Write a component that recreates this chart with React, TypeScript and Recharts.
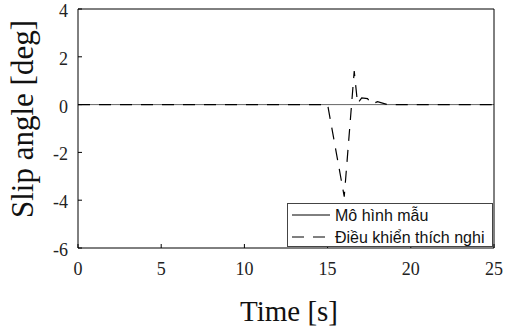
import React from 'react';
import { LineChart, Line, XAxis, YAxis, Label } from 'recharts';

const xTicks = [0, 5, 10, 15, 20, 25];
const yTicks = [-6, -4, -2, 0, 2, 4];

const modelTime = [0, 25];
const modelValue = [0, 0];

const adaptiveTime = [0, 15, 16.0, 16.6, 16.8, 17.05, 17.4, 17.65, 18.0, 18.6, 25];
const adaptiveValue = [0, 0, -3.85, 1.4, 0.05, 0.28, 0.25, 0.02, 0.12, 0, 0];

const seriesNames = ['Mô hình mẫu', 'Điều khiển thích nghi'];

const modelData = modelTime.map((t, i) => ({ t, v: modelValue[i] }));
const adaptiveData = adaptiveTime.map((t, i) => ({ t, v: adaptiveValue[i] }));

const W = 505;
const H = 326;
const PL = 78;
const PR = 494;
const PT = 9;
const PB = 248;
const TICK = 4;
const serif = '"Liberation Serif", "Times New Roman", serif';
const sans = '"Liberation Sans", Arial, sans-serif';

const BottomTick = (props: any) => {
  const { x, payload } = props;
  return (
    <g>
      <line x1={x} x2={x} y1={PB} y2={PB - TICK} stroke="#000" strokeWidth={1} />
      <text x={x} y={PB + 27} textAnchor="middle" style={{ fontFamily: serif, fontSize: 18 }} fill="#222">
        {payload.value}
      </text>
    </g>
  );
};

const TopTick = (props: any) => {
  const { x } = props;
  return <line x1={x} x2={x} y1={PT} y2={PT + TICK} stroke="#000" strokeWidth={1} />;
};

const LeftTick = (props: any) => {
  const { y, payload } = props;
  return (
    <g>
      <line x1={PL} x2={PL + TICK} y1={y} y2={y} stroke="#000" strokeWidth={1} />
      <text x={PL - 10} y={y + 8} textAnchor="end" style={{ fontFamily: serif, fontSize: 18 }} fill="#222">
        {payload.value}
      </text>
    </g>
  );
};

const RightTick = (props: any) => {
  const { y } = props;
  return <line x1={PR} x2={PR - TICK} y1={y} y2={y} stroke="#000" strokeWidth={1} />;
};

const LegendBox = () => (
  <svg width={206} height={44} style={{ position: 'absolute', left: 287, top: 203 }}>
    <rect x={0.5} y={0.5} width={205} height={43} fill="#fff" stroke="#444" strokeWidth={1} />
    <line x1={5} x2={43} y1={12} y2={12} stroke="#000" strokeWidth={1} />
    <line x1={5} x2={43} y1={34} y2={34} stroke="#000" strokeWidth={1} strokeDasharray="12 9" />
    <text x={48} y={17.5} style={{ fontFamily: sans, fontSize: 16 }} fill="#111">{seriesNames[0]}</text>
    <text x={48} y={39.5} style={{ fontFamily: sans, fontSize: 16 }} fill="#111">{seriesNames[1]}</text>
  </svg>
);

export default function App() {
  return (
    <div style={{ position: 'absolute', left: 0, top: 0, width: W, height: H, background: '#fff' }}>
      <LineChart width={W} height={H} margin={{ top: 0, right: 0, bottom: 0, left: 0 }}>
        <XAxis
          xAxisId="b"
          dataKey="t"
          type="number"
          domain={[0, 25]}
          ticks={xTicks}
          orientation="bottom"
          height={H - PB}
          tickLine={false}
          tickSize={0}
          tickMargin={0}
          axisLine={{ stroke: '#000', strokeWidth: 1 }}
          tick={<BottomTick />}
          interval={0}
        >
          <Label
            content={() => (
              <text x={289} y={321} textAnchor="middle" style={{ fontFamily: serif, fontSize: 29 }} fill="#111">
                Time [s]
              </text>
            )}
          />
        </XAxis>
        <XAxis
          xAxisId="top"
          dataKey="t"
          type="number"
          domain={[0, 25]}
          ticks={xTicks}
          orientation="top"
          height={PT}
          tickLine={false}
          tickSize={0}
          tickMargin={0}
          axisLine={{ stroke: '#000', strokeWidth: 1 }}
          tick={<TopTick />}
          interval={0}
        />
        <YAxis
          yAxisId="l"
          type="number"
          domain={[-6, 4]}
          ticks={yTicks}
          orientation="left"
          width={PL}
          tickLine={false}
          tickSize={0}
          tickMargin={0}
          axisLine={{ stroke: '#000', strokeWidth: 1 }}
          tick={<LeftTick />}
          interval={0}
        >
          <Label
            content={() => (
              <text
                x={33}
                y={119}
                transform="rotate(-90 33 119)"
                textAnchor="middle"
                style={{ fontFamily: serif, fontSize: 31 }}
                fill="#111"
              >
                Slip angle [deg]
              </text>
            )}
          />
        </YAxis>
        <YAxis
          yAxisId="r"
          type="number"
          domain={[-6, 4]}
          ticks={yTicks}
          orientation="right"
          width={W - PR}
          tickLine={false}
          tickSize={0}
          tickMargin={0}
          axisLine={{ stroke: '#000', strokeWidth: 1 }}
          tick={<RightTick />}
          interval={0}
        />
        <Line
          xAxisId="b"
          yAxisId="l"
          data={modelData}
          dataKey="v"
          name={seriesNames[0]}
          type="linear"
          stroke="#666"
          strokeWidth={1}
          dot={false}
          isAnimationActive={false}
        />
        <Line
          xAxisId="b"
          yAxisId="l"
          data={adaptiveData}
          dataKey="v"
          name={seriesNames[1]}
          type="linear"
          stroke="#000"
          strokeWidth={1.2}
          strokeDasharray="12 9"
          dot={false}
          isAnimationActive={false}
        />
      </LineChart>
      <LegendBox />
    </div>
  );
}
